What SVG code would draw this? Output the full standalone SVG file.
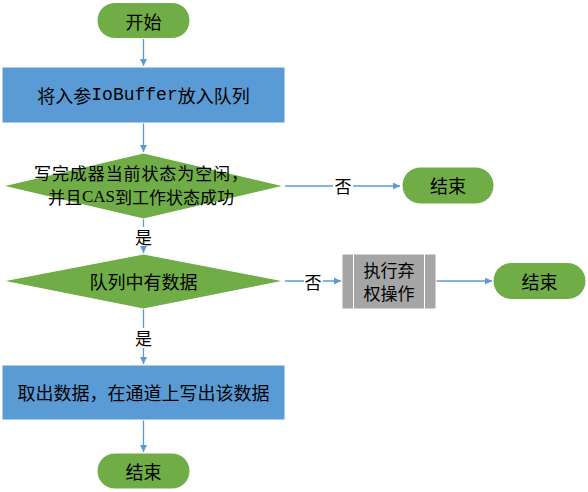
<svg xmlns="http://www.w3.org/2000/svg" width="588" height="492" viewBox="0 0 588 492">
<defs>
<style>
.t{font-family:"Noto Sans CJK SC","Microsoft YaHei",sans-serif;font-size:18px;fill:#000;text-anchor:middle;dominant-baseline:central}
.s{font-size:17px}
.g{fill:#70AD47;stroke:#fff;stroke-width:1}
.b{fill:#5B9BD5;stroke:#fff;stroke-width:1}
.c{stroke:#5B9BD5;stroke-width:1.3;fill:none}
.lbl{font-family:"Noto Sans CJK SC",sans-serif;font-size:17px;fill:#000;text-anchor:middle;dominant-baseline:central}
</style>
<marker id="a" viewBox="0 0 10 10" refX="10" refY="5" markerWidth="7" markerHeight="7" orient="auto" markerUnits="userSpaceOnUse">
<path d="M0,0 L10,5 L0,10 z" fill="#5B9BD5"/>
</marker>
</defs>
<rect width="588" height="492" fill="#fff"/>
<g id="connectors">
<line class="c" x1="143.5" y1="39" x2="143.5" y2="66" marker-end="url(#a)"/>
<line class="c" x1="143.5" y1="123" x2="143.5" y2="152" marker-end="url(#a)"/>
<line class="c" x1="285" y1="186" x2="400" y2="186" marker-end="url(#a)"/>
<rect x="333" y="176" width="20" height="20" fill="#fff"/>
<text class="lbl" x="343" y="185">否</text>
<line class="c" x1="143.5" y1="219" x2="143.5" y2="253" marker-end="url(#a)"/>
<rect x="133" y="227" width="21" height="19" fill="#fff"/>
<text class="lbl" x="143.5" y="236">是</text>
<line class="c" x1="285" y1="281" x2="341" y2="281" marker-end="url(#a)"/>
<rect x="304" y="271" width="19" height="20" fill="#fff"/>
<text class="lbl" x="313" y="281">否</text>
<line class="c" x1="436" y1="281" x2="492" y2="281" marker-end="url(#a)"/>
<line class="c" x1="143.5" y1="309" x2="143.5" y2="364" marker-end="url(#a)"/>
<rect x="133" y="328" width="21" height="20" fill="#fff"/>
<text class="lbl" x="143.5" y="337">是</text>
<line class="c" x1="143.5" y1="420" x2="143.5" y2="452" marker-end="url(#a)"/>
</g>
<g id="start">
<rect class="g" x="97" y="2.5" width="93" height="36" rx="18" ry="18"/>
<text class="t" x="143.5" y="20.5">开始</text>
</g>
<g id="put-queue">
<rect class="b" x="2" y="67" width="283" height="56"/>
<text class="t" x="143.5" y="95">将入参<tspan font-family="'Liberation Mono',monospace">IoBuffer</tspan>放入队列</text>
</g>
<g id="cas-check">
<polygon class="g" points="143.5,153 284,186 143.5,219 3,186"/>
<text class="t s" x="141" y="172.5" textLength="214" lengthAdjust="spacing">写完成器当前状态为空闲，</text>
<text class="t s" x="141" y="196">并且<tspan font-family="'Liberation Serif',serif" textLength="33" lengthAdjust="spacingAndGlyphs">CAS</tspan>到工作状态成功</text>
</g>
<g id="end1">
<rect class="g" x="402" y="167" width="92" height="37" rx="18.5" ry="18.5"/>
<text class="t" x="448" y="185">结束</text>
</g>
<g id="has-data">
<polygon class="g" points="143.5,254 284,281 143.5,309 3,281"/>
<text class="t" x="143.5" y="281">队列中有数据</text>
</g>
<g id="abandon">
<rect x="342" y="254" width="94" height="55" fill="#A5A5A5" stroke="#fff" stroke-width="1"/>
<line x1="353.5" y1="254" x2="353.5" y2="309" stroke="#fff" stroke-width="1"/>
<line x1="424.5" y1="254" x2="424.5" y2="309" stroke="#fff" stroke-width="1"/>
<text class="t s" x="389" y="269">执行弃</text>
<text class="t s" x="389" y="292">权操作</text>
</g>
<g id="end2">
<rect class="g" x="493" y="262.5" width="93" height="37" rx="18.5" ry="18.5"/>
<text class="t" x="539.5" y="281">结束</text>
</g>
<g id="write-data">
<rect class="b" x="2" y="365" width="283" height="55"/>
<text class="t" x="143.5" y="392">取出数据，在通道上写出该数据</text>
</g>
<g id="end3">
<rect class="g" x="97" y="453" width="93" height="36" rx="18" ry="18"/>
<text class="t" x="143.5" y="471">结束</text>
</g>
</svg>
